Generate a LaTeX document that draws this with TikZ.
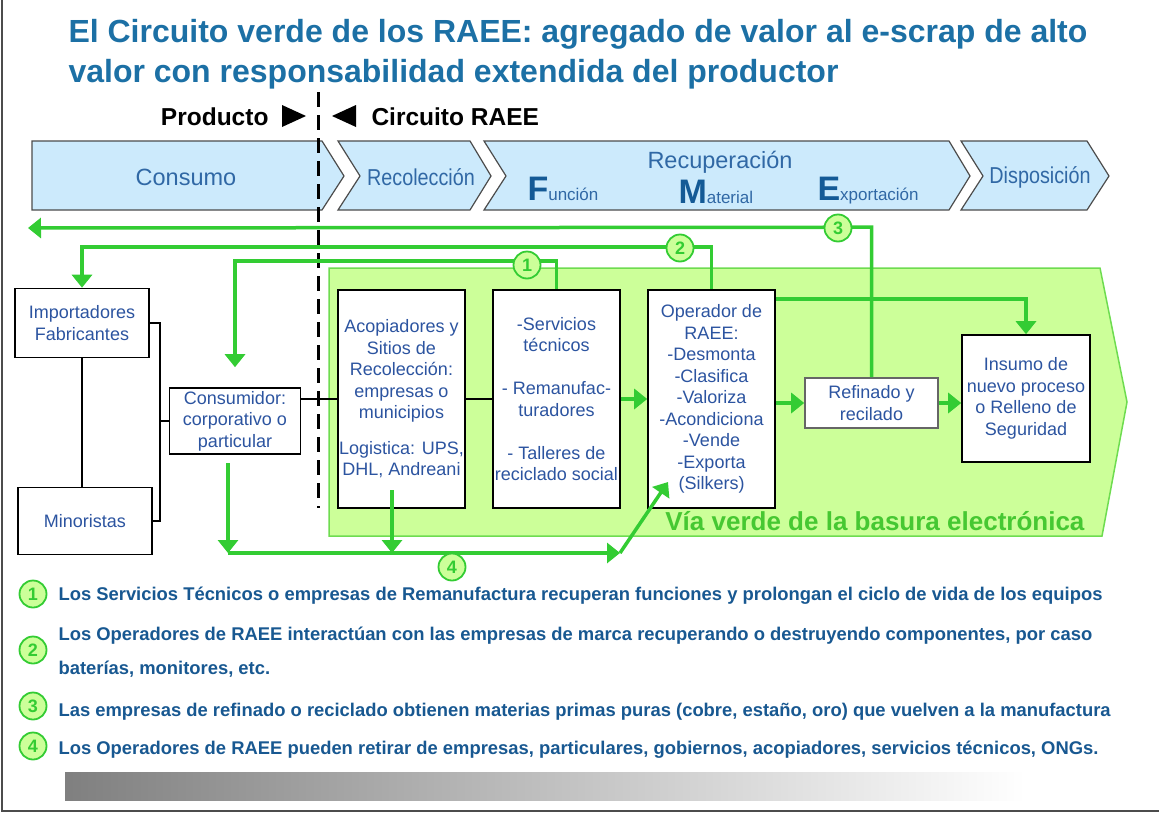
\documentclass[tikz,border=0pt]{standalone}
\usepackage{fontspec}
\setmainfont{Liberation Sans}
\newfontfamily\narrowfont[FakeStretch=0.86]{Liberation Sans}
\usepackage{tikz}
\usetikzlibrary{arrows.meta}

\definecolor{titleblue}{RGB}{28,112,165}
\definecolor{noteblue}{RGB}{24,88,145}
\definecolor{boxblue}{RGB}{44,84,160}
\definecolor{chevblue}{RGB}{48,104,165}
\definecolor{capblue}{RGB}{20,90,150}
\definecolor{chevfill}{RGB}{204,234,252}
\definecolor{linegreen}{RGB}{51,204,51}
\definecolor{zonegreen}{RGB}{204,255,153}
\definecolor{zoneedge}{RGB}{110,220,80}
\definecolor{viagreen}{RGB}{70,200,50}
\newcommand{\initcap}[1]{{\color{capblue}\bfseries\fontsize{34}{34}\selectfont #1}}

\begin{document}
\begin{tikzpicture}[x=1pt,y=-1pt,
  box/.style={draw,line width=1.6pt,fill=white,align=center,inner sep=0pt,
    text=boxblue,font=\fontsize{18}{21.5}\selectfont},
  gline/.style={draw=linegreen,line width=3.5pt},
  garrow/.style={gline,-{Triangle[length=13pt,width=20pt]}},
  num/.style={circle,draw=linegreen,fill=zonegreen,line width=1.8pt,inner sep=0pt,
    minimum size=27pt,text=linegreen,font=\bfseries\fontsize{18}{18}\selectfont},
  note/.style={anchor=base west,text=noteblue,font=\bfseries\fontsize{18.4}{20}\selectfont},
  chev/.style={draw=black!70,line width=1.2pt,fill=chevfill},
  chevtext/.style={text=chevblue,font=\fontsize{23.5}{23.5}\selectfont}]
\useasboundingbox (0,0) rectangle (1159,814);

% titulo
\node[anchor=base west,text=titleblue,font=\bfseries\fontsize{32}{32}\selectfont] (TIT1) at (65,42)
  {El Circuito verde de los RAEE: agregado de valor al e-scrap de alto};
\node[anchor=base west,text=titleblue,font=\bfseries\fontsize{32}{32}\selectfont] (TIT2) at (65,82)
  {valor con responsabilidad extendida del productor};

\node[anchor=base east,font=\bfseries\fontsize{24.5}{24.5}\selectfont] (PRO) at (272,125) {Producto};
\fill (282,105) -- (306,116) -- (282,127) -- cycle;
\fill (356,105) -- (332,116) -- (356,127) -- cycle;
\node[anchor=base west,font=\bfseries\fontsize{24.5}{24.5}\selectfont] (CIR) at (368,125) {Circuito RAEE};

% etapas
\draw[chev] (32,141) -- (322,141) -- (344,176) -- (322,210) -- (32,210) -- cycle;
\draw[chev] (338,141) -- (470,141) -- (491,176) -- (470,210) -- (338,210) -- (360,176) -- cycle;
\draw[chev] (484,141) -- (949,141) -- (970,176) -- (949,210) -- (484,210) -- (506,176) -- cycle;
\draw[chev] (961,141) -- (1087,141) -- (1109,176) -- (1087,210) -- (961,210) -- (983,176) -- cycle;
\node[chevtext] (CSM) at (186,177) {Consumo};
\node[chevtext,font=\narrowfont\fontsize{23}{23}\selectfont] (REC) at (421,177) {Recolección};
\node[chevtext] (RCP) at (720,162) {Recuperación};
\node[chevtext,anchor=base west,font=\fontsize{17}{17}\selectfont] (FUN) at (524,200) {\initcap{F}unción};
\node[chevtext,anchor=base west,font=\fontsize{17}{17}\selectfont] (MAT) at (675,203) {\initcap{M}aterial};
\node[chevtext,anchor=base west,font=\fontsize{17}{17}\selectfont] (EXP) at (814,200) {\initcap{E}xportación};
\node[chevtext,font=\narrowfont\fontsize{23}{23}\selectfont] (DIS) at (1040,177) {Disposición};

\draw[line width=3pt,dash pattern=on 15pt off 8pt] (318,92) -- (318,508);

% via verde
\draw[fill=zonegreen,draw=zoneedge,line width=1.5pt]
  (329,268) -- (1100,268) -- (1127,402) -- (1102,536) -- (329,536) -- cycle;
\node[anchor=base east,text=viagreen,font=\bfseries\fontsize{26}{26}\selectfont] (VIA) at (1088,530)
  {Vía verde de la basura electrónica};

\node[box,minimum width=134pt,minimum height=69pt] (IMP) at (82,323) {Importadores\\Fabricantes};
\node[box,minimum width=134pt,minimum height=67pt] (MIN) at (85,521) {Minoristas};
\node[box,minimum width=131pt,minimum height=66pt] (CON) at (235,421) {Consumidor:\\corporativo o\\particular};
\node[box,minimum width=127pt,minimum height=218pt] (ACO) at (401.5,399)
  {Acopiadores y\\Sitios de\\Recolección:\\empresas o\\municipios\\[14pt]Logistica: UPS,\\DHL, Andreani};
\node[box,minimum width=127pt,minimum height=218pt] (SER) at (556.5,399)
  {-Servicios\\técnicos\\ \\- Remanufac-\\turadores\\ \\- Talleres de\\reciclado social};
\node[box,minimum width=127pt,minimum height=218pt] (OPE) at (711.5,399)
  {Operador de\\RAEE:\\-Desmonta\\-Clasifica\\-Valoriza\\-Acondiciona\\-Vende\\-Exporta\\(Silkers)};
\node[box,draw=black!60,minimum width=133pt,minimum height=50pt] (REF) at (871.5,403) {Refinado y\\recilado};
\node[box,minimum width=128pt,minimum height=127pt] (INS) at (1026,398.5)
  {Insumo de\\nuevo proceso\\o Relleno de\\Seguridad};

\draw[line width=1.8pt] (IMP.south) -- (IMP.south |- MIN.north);
\draw[line width=1.8pt] (IMP.east) -- ++(10,0) |- (MIN.east);
\draw[line width=1.8pt] (CON.west) -- ++(-9,0);
\draw[line width=1.8pt] (ACO.west) -- (ACO.west -| CON.east);
\draw[line width=1.8pt] (ACO.east) -- (SER.west);

% circuitos
\draw[garrow] (SER) -- (OPE);
\draw[garrow] (OPE.east |- REF) -- (REF);
\draw[garrow] (REF) -- (INS.west |- REF);
\draw[garrow] (REF.north) -- ++(0,-150) -- (28,228);
\draw[garrow] (OPE.north) -- ++(0,-42) -| (IMP.north);
\draw[garrow] (SER.north) -- ++(0,-28) -| ([yshift=20pt]CON.north);
\draw[garrow] ([yshift=-10pt]OPE.north east) -| (INS.north);

\coordinate (L4) at (228,553);
\coordinate (R4) at (620,553);
\coordinate (T4) at (668,482);
\draw[garrow] (228,463) -- (L4);
\draw[garrow] (392,490) -- (392,553);
\draw[garrow] (L4) -- (R4);
\draw[garrow] (R4) -- (T4);

\node[num] (N1) at (527,265) {1};
\node[num] (N2) at (680,248) {2};
\node[num] (N3) at (838,228) {3};
\node[num] (N4) at (452,567) {4};

% notas
\node[num] (K1) at (33,594) {1};
\node[num] (K2) at (33,650) {2};
\node[num] (K3) at (33,706) {3};
\node[num] (K4) at (33,746) {4};
\node[note] (T1) at (55,600) {Los Servicios Técnicos o empresas de Remanufactura recuperan funciones y prolongan el ciclo de vida de los equipos};
\node[note] (T2) at (55,640) {Los Operadores de RAEE interactúan con las empresas de marca recuperando o destruyendo componentes, por caso};
\node[note] (T2b) at (55,674) {baterías, monitores, etc.};
\node[note] (T3) at (55,716) {Las empresas de refinado o reciclado obtienen materias primas puras (cobre, estaño, oro) que vuelven a la manufactura};
\node[note] (T4) at (55,754) {Los Operadores de RAEE pueden retirar de empresas, particulares, gobiernos, acopiadores, servicios técnicos, ONGs.};

\shade[left color=black!50,right color=white] (65,772) rectangle (1025,800);
\draw[line width=2pt,black!70] (2,0) -- (2,811) -- (1159,811);
\end{tikzpicture}
\end{document}
